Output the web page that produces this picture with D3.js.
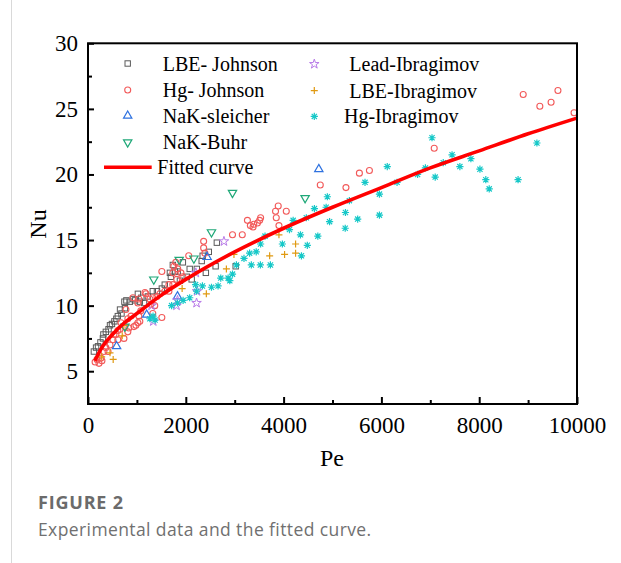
<!DOCTYPE html>
<html><head><meta charset="utf-8">
<script src="https://cdn.jsdelivr.net/npm/d3@7"></script>
<style>
html,body{margin:0;padding:0;background:#fff;}
svg{display:block;}
</style></head>
<body>
<svg id="chart" width="621" height="563"></svg>
<script>
// ---------- data (Pe, Nu) ----------
const lbeJohnson = [[120,6.5],[165,6.8],[205,6.9],[255,7.2],[305,7.5],[315,7.8],[365,8.0],[420,8.2],[450,8.5],[490,8.6],[540,8.8],[580,9.0],[610,9.2],[655,9.7],[685,9.4],[745,10.3],[755,9.8],[785,10.4],[855,10.3],[920,10.5],[960,10.4],[1020,10.9],[1060,10.3],[1090,10.6],[1145,10.2],[1225,10.7],[1325,11.1],[1410,11.1],[1510,11.3],[1570,11.6],[1675,12.5],[1695,12.2],[1735,13.1],[1775,12.6],[1835,12.6],[1880,11.9],[1940,13.3],[2020,12.2],[2080,12.8],[2120,12.0],[2225,12.8],[2325,13.4],[2345,13.8],[2410,12.5],[2470,14.1],[2610,13.0],[2635,14.8],[3020,13.0]];
const hgJohnson = [[145,5.7],[185,5.9],[225,5.6],[265,6.0],[285,5.8],[325,6.5],[365,6.8],[410,6.5],[450,7.0],[510,7.4],[530,7.8],[570,7.8],[610,7.4],[610,8.1],[655,8.2],[675,8.7],[735,7.5],[755,8.4],[775,9.7],[815,8.0],[815,9.0],[835,8.3],[880,9.2],[920,10.6],[940,8.4],[980,8.5],[1020,10.2],[1020,8.7],[1040,10.5],[1040,9.2],[1060,8.8],[1080,9.6],[1165,11.0],[1185,10.9],[1265,10.5],[1285,10.1],[1325,10.6],[1325,9.4],[1365,10.0],[1410,10.7],[1470,10.9],[1510,12.6],[1510,9.1],[1570,11.1],[1655,11.6],[1655,11.1],[1735,12.5],[1735,11.6],[1755,13.0],[1795,13.3],[1815,12.0],[1835,12.8],[1900,12.5],[1940,12.2],[2060,13.8],[2365,14.9],[2365,14.4],[2390,14.0],[2955,15.4],[3155,15.4],[3260,16.5],[3320,16.1],[3375,16.0],[3390,16.2],[3465,16.3],[3510,16.5],[3530,16.7],[3835,17.2],[3850,16.7],[3890,17.6],[3905,16.1],[4055,17.2],[4750,19.2],[5275,19.0],[5550,20.1],[5755,20.3],[7080,22.0],[8900,26.1],[9240,25.2],[9470,25.5],[9610,26.4],[9940,24.7]];
const nakSleicher = [[585,6.9],[1200,9.3],[1830,10.7],[2435,13.7],[4720,20.4]];
const nakBuhr = [[755,8.4],[1345,12.0],[1865,13.5],[2165,13.6],[2525,15.6],[2955,18.6],[4440,18.2]];
const leadIbragimov = [[1300,10.0],[1335,8.8],[1810,10.0],[1830,10.4],[2205,12.5],[2230,11.1],[2220,10.2],[2780,14.9]];
const lbeIbragimov = [[280,6.1],[450,6.4],[515,5.9],[700,7.7],[735,8.5],[1925,11.3],[2420,10.9],[2830,12.8],[2985,13.9],[3715,13.8],[3905,15.4],[4020,13.9],[4245,14.7],[4245,14.0]];
const hgIbragimov = [[1265,9.0],[1330,9.2],[1370,8.9],[1710,10.0],[1830,10.2],[1945,10.4],[2080,10.6],[2200,11.6],[2220,11.1],[2340,11.5],[2525,11.4],[2660,11.5],[2715,12.1],[2865,12.1],[2900,11.9],[2955,12.4],[3035,13.1],[3190,13.6],[3305,14.0],[3340,13.1],[3440,14.1],[3525,13.1],[3530,14.7],[3620,15.3],[3730,13.1],[3975,14.7],[4120,15.8],[4195,16.5],[4345,15.4],[4365,13.8],[4465,16.7],[4485,14.6],[4630,17.4],[4700,15.3],[4870,17.5],[4895,18.3],[4940,16.4],[5265,17.1],[5260,15.9],[5345,18.0],[5515,16.6],[5665,19.4],[5960,18.5],[5960,16.9],[6120,20.6],[6320,19.4],[6740,20.0],[6900,20.5],[7035,22.8],[7100,19.8],[7265,20.9],[7445,21.5],[7605,20.6],[7830,21.2],[8015,20.4],[8135,19.6],[8205,18.9],[8795,19.6],[9180,22.4]];
// fitted curve, read at several Pe values
const fitPe = [140,300,500,750,1000,1500,2000,3000,4000,5000,6000,7000,8000,9000,10000];
const fitNu = [5.8,6.9,7.8,8.7,9.4,10.8,12.0,14.1,15.9,17.5,19.0,20.5,21.8,23.1,24.3];
const xTicks = [0,2000,4000,6000,8000,10000];
const yTicks = [5,10,15,20,25,30];

const series = [
  {name:"LBE- Johnson", data:lbeJohnson, mk:"square", color:"#5a5a5a", col:0, row:0, tx:162.7},
  {name:"Hg- Johnson", data:hgJohnson, mk:"circle", color:"#f25a5a", col:0, row:1, tx:162.7},
  {name:"NaK-sleicher", data:nakSleicher, mk:"tri", color:"#2f72e0", col:0, row:2, tx:162.7},
  {name:"NaK-Buhr", data:nakBuhr, mk:"tridown", color:"#1fa878", col:0, row:3, tx:162.7},
  {name:"Lead-Ibragimov", data:leadIbragimov, mk:"star", color:"#b87ae8", col:1, row:0, tx:349.3},
  {name:"LBE-Ibragimov", data:lbeIbragimov, mk:"plus", color:"#e09a12", col:1, row:1, tx:349.3},
  {name:"Hg-Ibragimov", data:hgIbragimov, mk:"ast", color:"#16c8c8", col:1, row:2, tx:344}
];

const svg = d3.select("#chart");
const X0=88, X1=577, Y0=43.3, Y1=404;
const x = d3.scaleLinear().domain([0,10000]).range([X0,X1]);
const y = d3.scaleLinear().domain([2.5,30]).range([Y1,Y0]);

// page frame line
svg.append("line").attr("x1",11.5).attr("x2",11.5).attr("y1",0).attr("y2",563).attr("stroke","#d9d9d9").attr("stroke-width",1);

function marker(g, mk, color){
  if(mk==="square"){
    g.append("rect").attr("x",-2.7).attr("y",-2.7).attr("width",5.4).attr("height",5.4).attr("fill","none").attr("stroke",color).attr("stroke-width",1);
  } else if(mk==="circle"){
    g.append("circle").attr("r",3).attr("fill","none").attr("stroke",color).attr("stroke-width",1.1);
  } else if(mk==="tri"){
    g.append("path").attr("d",d3.symbol(d3.symbolTriangle,30)()).attr("fill","none").attr("stroke",color).attr("stroke-width",1.2);
  } else if(mk==="tridown"){
    g.append("path").attr("d",d3.symbol(d3.symbolTriangle,30)()).attr("transform","rotate(180)").attr("fill","none").attr("stroke",color).attr("stroke-width",1.2);
  } else if(mk==="star"){
    g.append("path").attr("d",d3.symbol(d3.symbolStar,28)()).attr("fill","none").attr("stroke",color).attr("stroke-width",1);
  } else if(mk==="plus"){
    g.append("path").attr("d","M-3.5,0H3.5M0,-3.5V3.5").attr("stroke",color).attr("stroke-width",1.2);
  } else if(mk==="ast"){
    g.append("path").attr("d","M-3.6,0H3.6M0,-3.6V3.6M-2.6,-2.6L2.6,2.6M-2.6,2.6L2.6,-2.6").attr("stroke",color).attr("stroke-width",1.2);
  }
}

// points
const pts = svg.append("g");
series.forEach(s=>{
  s.data.forEach(d=>{
    const g = pts.append("g").attr("transform",`translate(${x(d[0])},${y(d[1])})`);
    marker(g, s.mk, s.color);
  });
});

// fitted curve
const line = d3.line().x(d=>x(d[0])).y(d=>y(d[1])).curve(d3.curveMonotoneX);
svg.append("path").datum(fitPe.map((p,i)=>[p,fitNu[i]])).attr("d",line)
  .attr("fill","none").attr("stroke","#ff0000").attr("stroke-width",3.6);

// axes
const font = "'Liberation Serif','Times New Roman',serif";
const xAxis = svg.append("g").attr("transform",`translate(0,${Y1})`)
  .call(d3.axisBottom(x).tickValues(xTicks).tickSizeInner(-7).tickSizeOuter(0).tickPadding(13).tickFormat(d3.format("d")));
const xMinor = svg.append("g").attr("transform",`translate(0,${Y1})`)
  .call(d3.axisBottom(x).tickValues([1000,3000,5000,7000,9000]).tickSizeInner(-4).tickSizeOuter(0).tickFormat(""));
const yAxis = svg.append("g").attr("transform",`translate(${X0},0)`)
  .call(d3.axisLeft(y).tickValues(yTicks).tickSizeInner(-6).tickSizeOuter(0).tickPadding(10));
const yMinor = svg.append("g").attr("transform",`translate(${X0},0)`)
  .call(d3.axisLeft(y).tickValues([7.5,12.5,17.5,22.5,27.5]).tickSizeInner(-4).tickSizeOuter(0).tickFormat(""));
[xAxis,xMinor,yAxis,yMinor].forEach(a=>{
  a.select(".domain").remove();
  a.selectAll(".tick line").attr("stroke","#000").attr("stroke-width",2);
  a.selectAll("text").attr("font-family",font).attr("font-size",23).attr("fill","#000");
});
svg.append("rect").attr("x",X0).attr("y",Y0).attr("width",X1-X0).attr("height",Y1-Y0)
  .attr("fill","none").attr("stroke","#000").attr("stroke-width",2);

// axis titles
svg.append("text").attr("x",(X0+X1)/2-0.5).attr("y",466).attr("text-anchor","middle")
  .attr("font-family",font).attr("font-size",24).text("Pe");
svg.append("text").attr("transform","translate(46,224) rotate(-90)").attr("text-anchor","middle")
  .attr("font-family",font).attr("font-size",24).text("Nu");

// legend
const rowsY = [63.5,90,115.8,142.3];
const colMk = [127.7,314.3];
const leg = svg.append("g");
series.forEach(s=>{
  const yy = rowsY[s.row] + (s.col===1?0.6:0);
  const g = leg.append("g").attr("transform",`translate(${colMk[s.col]},${yy})`);
  marker(g, s.mk, s.color);
  leg.append("text").attr("x",s.tx).attr("y",yy+7).attr("font-family",font).attr("font-size",20).attr("fill","#000").text(s.name);
});
leg.append("line").attr("x1",104).attr("x2",151.7).attr("y1",167.3).attr("y2",167.3).attr("stroke","#ff0000").attr("stroke-width",3.6);
leg.append("text").attr("x",157.3).attr("y",174.3).attr("font-family",font).attr("font-size",20).text("Fitted curve");

// caption
const cf = "'Open Sans','Noto Sans',sans-serif";
svg.append("text").attr("x",38).attr("y",509).attr("font-family",cf).attr("font-weight","bold").attr("font-size",18).attr("letter-spacing","0.8px").attr("fill","#6b6b6b").text("FIGURE 2");
svg.append("text").attr("x",38).attr("y",535.5).attr("font-family",cf).attr("font-size",17.5).attr("letter-spacing","0.4px").attr("fill","#707070").text("Experimental data and the fitted curve.");
</script>
</body></html>
